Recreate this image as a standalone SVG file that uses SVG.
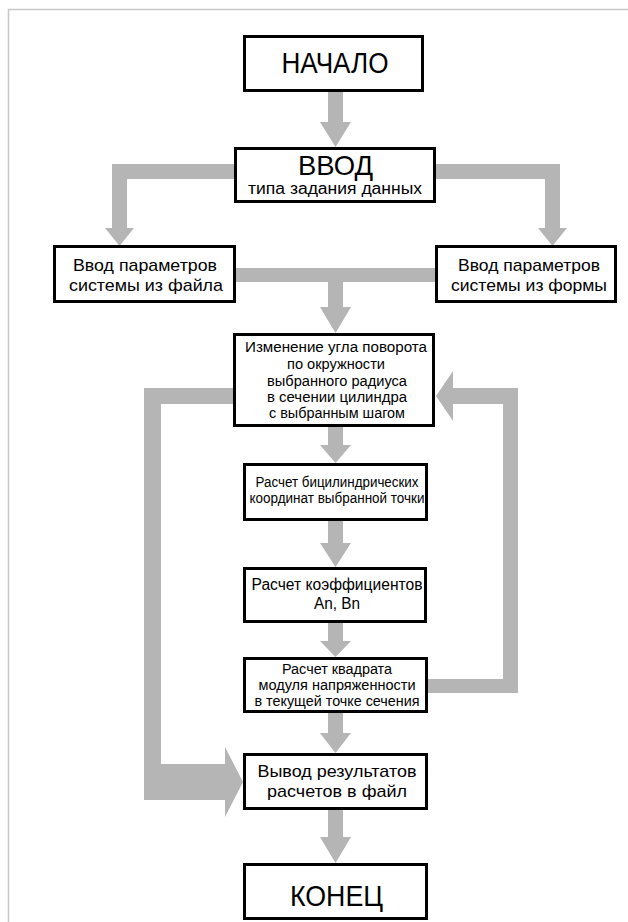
<svg xmlns="http://www.w3.org/2000/svg" width="628" height="922" viewBox="0 0 628 922">
<style>
.box{fill:#fff;stroke:#000;stroke-width:3}
.arr{fill:#b5b5b5;stroke:none}
.t{font-family:"Liberation Sans",Arial,sans-serif;fill:#000;text-anchor:middle}
.frame{stroke:#c8c8c8;stroke-width:1.5;fill:none}
</style>
<rect width="628" height="922" fill="#fff"/>
<path class="frame" d="M8.5,922 V9.5 H628"/>
<g id="connectors">
<polygon class="arr" points="328,92 343,92 343,122 351,122 335.5,147 320,122 328,122"/>
<polygon class="arr" points="234,164 112,164 112,228 105,228 119.5,246 134,228 127,228 127,179 234,179"/>
<polygon class="arr" points="436,164 560,164 560,228 567,228 552.5,246 538,228 545,228 545,179 436,179"/>
<polygon class="arr" points="236,268 435,268 435,282 343,282 343,307 351,307 335.5,333 320,307 328,307 328,282 236,282"/>
<polygon class="arr" points="328,427 343,427 343,445 351,445 335.5,463 320,445 328,445"/>
<polygon class="arr" points="328,521 343,521 343,543 351,543 335.5,567 320,543 328,543"/>
<polygon class="arr" points="328,623 343,623 343,641 351,641 335.5,657 320,641 328,641"/>
<polygon class="arr" points="328,713 343,713 343,733 351,733 335.5,753 320,733 328,733"/>
<polygon class="arr" points="328,810 343,810 343,837 351,837 335.5,863 320,837 328,837"/>
<polygon class="arr" points="428,679 503,679 503,404 453,404 453,421 436,396 453,371 453,388 518,388 518,693 428,693"/>
<polygon class="arr" points="233,388 144,388 144,800 225,800 225,817 243,782 225,747 225,764 161,764 161,404 233,404"/>
</g>
<g id="start">
<rect class="box" x="244.5" y="36.5" width="178" height="54"/>
<text class="t" x="335" y="73" font-size="30" textLength="107" lengthAdjust="spacingAndGlyphs">НАЧАЛО</text>
</g>
<g id="input">
<rect class="box" x="235.5" y="148.5" width="199" height="53"/>
<text class="t" x="335.5" y="175" font-size="28" textLength="75" lengthAdjust="spacingAndGlyphs">ВВОД</text>
<text class="t" x="335" y="194" font-size="16" textLength="174" lengthAdjust="spacingAndGlyphs">типа задания данных</text>
</g>
<g id="from-file">
<rect class="box" x="54.5" y="246.5" width="180" height="55"/>
<text class="t" x="145" y="271" font-size="17" textLength="144" lengthAdjust="spacingAndGlyphs">Ввод параметров</text>
<text class="t" x="146" y="291" font-size="17" textLength="154" lengthAdjust="spacingAndGlyphs">системы из файла</text>
</g>
<g id="from-form">
<rect class="box" x="436.5" y="246.5" width="179" height="55"/>
<text class="t" x="529" y="271" font-size="17" textLength="142" lengthAdjust="spacingAndGlyphs">Ввод параметров</text>
<text class="t" x="529" y="291" font-size="17" textLength="156" lengthAdjust="spacingAndGlyphs">системы из формы</text>
</g>
<g id="angle">
<rect class="box" x="234.5" y="334.5" width="199" height="91"/>
<text class="t" x="336" y="352" font-size="14" textLength="182" lengthAdjust="spacingAndGlyphs">Изменение угла поворота</text>
<text class="t" x="336" y="369" font-size="14" textLength="98" lengthAdjust="spacingAndGlyphs">по окружности</text>
<text class="t" x="337" y="386" font-size="14" textLength="140" lengthAdjust="spacingAndGlyphs">выбранного радиуса</text>
<text class="t" x="337" y="402" font-size="14" textLength="140" lengthAdjust="spacingAndGlyphs">в сечении цилиндра</text>
<text class="t" x="337" y="418" font-size="14" textLength="136" lengthAdjust="spacingAndGlyphs">с выбранным шагом</text>
</g>
<g id="coords">
<rect class="box" x="244.5" y="464.5" width="182" height="55"/>
<text class="t" x="337" y="487" font-size="14" textLength="163" lengthAdjust="spacingAndGlyphs">Расчет бицилиндрических</text>
<text class="t" x="337" y="503" font-size="14" textLength="175" lengthAdjust="spacingAndGlyphs">координат выбранной точки</text>
</g>
<g id="coeffs">
<rect class="box" x="244.5" y="568.5" width="181" height="53"/>
<text class="t" x="337" y="590" font-size="16" textLength="171" lengthAdjust="spacingAndGlyphs">Расчет коэффициентов</text>
<text class="t" x="337" y="609" font-size="16" textLength="46" lengthAdjust="spacingAndGlyphs">An, Bn</text>
</g>
<g id="intensity">
<rect class="box" x="244.5" y="658.5" width="182" height="53"/>
<text class="t" x="337" y="674" font-size="14" textLength="110" lengthAdjust="spacingAndGlyphs">Расчет квадрата</text>
<text class="t" x="337" y="690" font-size="14" textLength="157" lengthAdjust="spacingAndGlyphs">модуля напряженности</text>
<text class="t" x="337" y="706" font-size="14" textLength="165" lengthAdjust="spacingAndGlyphs">в текущей точке сечения</text>
</g>
<g id="output">
<rect class="box" x="244.5" y="754.5" width="182" height="54"/>
<text class="t" x="337" y="777" font-size="17" textLength="159" lengthAdjust="spacingAndGlyphs">Вывод результатов</text>
<text class="t" x="337" y="797" font-size="17" textLength="140" lengthAdjust="spacingAndGlyphs">расчетов в файл</text>
</g>
<g id="end">
<rect class="box" x="244.5" y="864.5" width="182" height="54"/>
<text class="t" x="336.5" y="906" font-size="30" textLength="93" lengthAdjust="spacingAndGlyphs">КОНЕЦ</text>
</g>
</svg>
